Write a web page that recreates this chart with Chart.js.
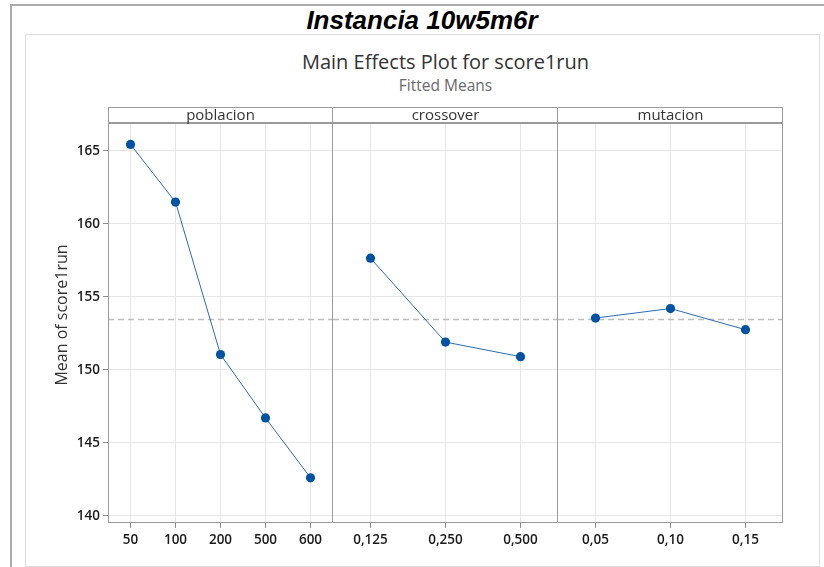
<!DOCTYPE html>
<html>
<head>
<meta charset="utf-8">
<title>Main Effects Plot for score1run</title>
<script src="https://cdn.jsdelivr.net/npm/chart.js@4.4.1/dist/chart.umd.min.js"></script>
<style>
  html, body { margin: 0; padding: 0; background: #fff; }
  body { width: 824px; height: 567px; position: relative; overflow: hidden; font-family: 'Open Sans', 'Noto Sans', sans-serif; }
  #frame { position: absolute; left: 10px; top: 4px; width: 830px; height: 600px; border-left: 2px solid #ababab; border-top: 2px solid #ababab; }
  #heading { position: absolute; left: 0; top: 5px; width: 844px; text-align: center; font: italic bold 26px 'Liberation Sans', Arial, sans-serif; color: #000; line-height: 30px; }
  #sheet { position: absolute; left: 25px; top: 34px; width: 793px; height: 531px; border: 1px solid #dedede; background: #fff; }
  #title { position: absolute; left: 108px; top: 48px; width: 675px; text-align: center; font-size: 20px; color: #333; line-height: 28px; }
  #subtitle { position: absolute; left: 108px; top: 74px; width: 675px; text-align: center; font-size: 15.5px; color: #6a6a6a; line-height: 22px; }
  .cell { position: absolute; top: 100px; height: 460px; }
  .cell canvas { display: block; }
</style>
</head>
<body>
<div id="frame"></div>
<div id="heading">Instancia 10w5m6r</div>
<div id="sheet"></div>
<div id="title">Main Effects Plot for score1run</div>
<div id="subtitle">Fitted Means</div>
<div class="cell" style="left:40px;width:293px"><canvas id="c0" width="293" height="460"></canvas></div>
<div class="cell" style="left:333px;width:225px"><canvas id="c1" width="225" height="460"></canvas></div>
<div class="cell" style="left:558px;width:225px"><canvas id="c2" width="225" height="460"></canvas></div>

<script>
// Factor names and their levels
const factors = ['poblacion', 'crossover', 'mutacion'];
const poblacionLevels = ['50', '100', '200', '500', '600'];
const crossoverLevels = ['0,125', '0,250', '0,500'];
const mutacionLevels = ['0,05', '0,10', '0,15'];

// Fitted means of score1run at each level
const poblacionMeans = [165.45, 161.5, 151.05, 146.7, 142.6];
const crossoverMeans = [157.65, 151.9, 150.9];
const mutacionMeans = [153.55, 154.2, 152.75];

// Shared response axis
const yTicks = [140, 145, 150, 155, 160, 165];
const yMin = 139.5;
const yMax = 166.85;
const yTitle = 'Mean of score1run';

const avg = a => a.reduce((s, v) => s + v, 0) / a.length;
// Grand mean: reference line drawn across every panel
const grandMean = avg([avg(poblacionMeans), avg(crossoverMeans), avg(mutacionMeans)]);

const FONT = "'Open Sans', 'Noto Sans', sans-serif";
const HEADER_H = 17;

// Draws the panel frame, the factor strip above it, the dashed grand-mean line
// and (first panel only) the response title centred on the whole panel height
const panelPlugin = {
  id: 'panelFrame',
  beforeDatasetsDraw(chart, args, opts) {
    const { ctx, chartArea: a, scales: { y } } = chart;
    const py = Math.round(y.getPixelForValue(opts.mean)) + 0.5;
    ctx.save();
    ctx.strokeStyle = '#bdbdbd';
    ctx.lineWidth = 1.5;
    ctx.setLineDash([6, 4]);
    ctx.beginPath();
    ctx.moveTo(a.left, py);
    ctx.lineTo(a.right, py);
    ctx.stroke();
    ctx.restore();
  },
  afterDraw(chart, args, opts) {
    const { ctx, chartArea: a } = chart;
    const top = a.top - HEADER_H;
    ctx.save();
    ctx.strokeStyle = '#9a9a9a';
    ctx.lineWidth = 1;
    ctx.beginPath();
    ctx.moveTo(opts.drawLeft ? a.left + 0.5 : a.left, top + 0.5);
    ctx.lineTo(a.right - 0.5, top + 0.5);
    ctx.lineTo(a.right - 0.5, a.bottom - 0.5);
    ctx.lineTo(a.left, a.bottom - 0.5);
    if (opts.drawLeft) {
      ctx.moveTo(a.left + 0.5, top);
      ctx.lineTo(a.left + 0.5, a.bottom);
    }
    ctx.stroke();
    // strip separator
    ctx.lineWidth = 2;
    ctx.beginPath();
    ctx.moveTo(a.left, a.top - 1);
    ctx.lineTo(a.right, a.top - 1);
    ctx.stroke();
    // factor name
    ctx.fillStyle = '#333';
    ctx.font = '15px ' + FONT;
    ctx.textAlign = 'center';
    ctx.textBaseline = 'middle';
    ctx.fillText(opts.label, (a.left + a.right) / 2, top + HEADER_H / 2);
    // response title
    if (opts.axisTitle) {
      ctx.translate(22, (top + a.bottom) / 2);
      ctx.rotate(-Math.PI / 2);
      ctx.font = '16px ' + FONT;
      ctx.fillText(opts.axisTitle, 0, 0);
    }
    ctx.restore();
  }
};

function makePanel(canvasId, name, levels, means, first) {
  return new Chart(document.getElementById(canvasId), {
    type: 'line',
    data: {
      labels: levels,
      datasets: [{
        data: means,
        borderColor: '#2a6bb5',
        borderWidth: 1,
        pointRadius: 4.6,
        pointHoverRadius: 4.6,
        pointBackgroundColor: '#0052a3',
        pointBorderColor: '#0052a3',
        pointBorderWidth: 0,
        tension: 0,
        fill: false
      }]
    },
    options: {
      responsive: false,
      animation: false,
      events: [],
      layout: { autoPadding: false, padding: { top: 24, right: 0, bottom: 0, left: 0 } },
      plugins: {
        legend: { display: false },
        tooltip: { enabled: false },
        title: { display: false },
        panelFrame: { label: name, mean: grandMean, drawLeft: first, axisTitle: first ? yTitle : null }
      },
      scales: {
        x: {
          type: 'category',
          offset: true,
          grid: { offset: false, color: '#e6e6e6', lineWidth: 1, tickLength: 5, tickColor: '#8c8c8c', drawTicks: true },
          border: { display: false },
          ticks: { color: '#1a1a1a', font: { family: FONT, size: 13.5, weight: '600' }, padding: 4, maxRotation: 0, autoSkip: false },
          afterFit(scale) { scale.height = 37; }
        },
        y: {
          type: 'linear',
          min: yMin,
          max: yMax,
          afterBuildTicks(scale) { scale.ticks = yTicks.map(v => ({ value: v })); },
          grid: { color: '#e6e6e6', lineWidth: 1, tickLength: first ? 5 : 0, tickColor: '#8c8c8c', drawTicks: first },
          border: { display: false },
          ticks: { display: first, color: '#1a1a1a', font: { family: FONT, size: 13.5, weight: '600' }, padding: 3 },
          title: { display: false },
          afterFit(scale) { scale.width = first ? 68 : 0; }
        }
      }
    },
    plugins: [panelPlugin]
  });
}

makePanel('c0', factors[0], poblacionLevels, poblacionMeans, true);
makePanel('c1', factors[1], crossoverLevels, crossoverMeans, false);
makePanel('c2', factors[2], mutacionLevels, mutacionMeans, false);
</script>
</body>
</html>
